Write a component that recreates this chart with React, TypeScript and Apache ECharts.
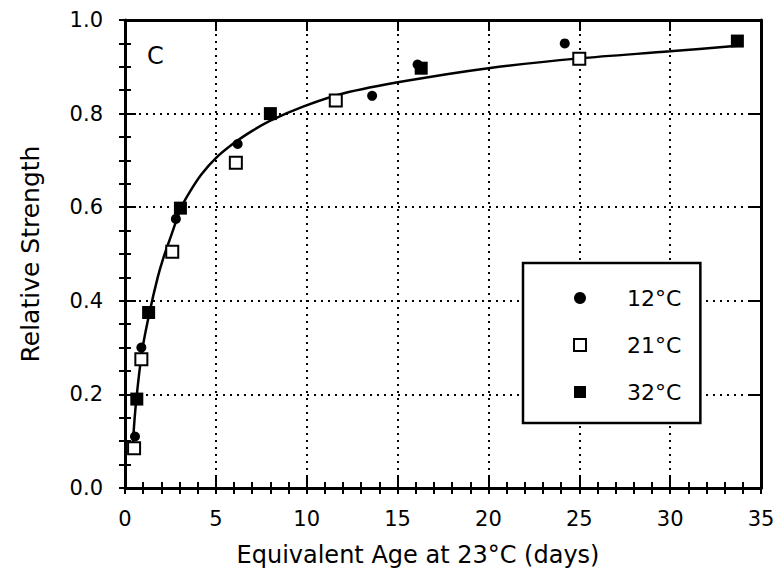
import React, { useEffect, useRef } from "react";
import * as echarts from "echarts";

const FONT = "DejaVu Sans";

// Measured points (equivalent age in days, relative strength)
const series12C: number[][] = [
  [0.55, 0.11], [0.9, 0.3], [2.8, 0.575], [6.2, 0.735], [13.6, 0.838], [16.1, 0.905], [24.2, 0.95],
];
const series21C: number[][] = [
  [0.5, 0.085], [0.9, 0.275], [2.6, 0.505], [6.1, 0.695], [11.6, 0.828], [25.0, 0.917],
];
const series32C: number[][] = [
  [0.65, 0.19], [1.3, 0.375], [3.05, 0.598], [8.0, 0.8], [16.3, 0.897], [33.7, 0.955],
];
// Fitted curve
const fitCurve: number[][] = [
  [0.42, 0.09], [0.6, 0.18], [0.95, 0.295], [1.35, 0.375], [1.8, 0.45], [2.1, 0.49],
  [2.5, 0.535], [3.1, 0.6], [3.6, 0.635], [4.2, 0.67], [5.0, 0.705], [6.0, 0.737],
  [7.0, 0.763], [8.0, 0.785], [9.8, 0.815], [12.0, 0.843], [15.5, 0.87], [20.0, 0.897],
  [25.0, 0.918], [30.0, 0.933], [33.7, 0.945],
];
const legendNames = ["12°C", "21°C", "32°C"];
const panelLabel = "C";
const xTitle = "Equivalent Age at 23°C (days)";
const yTitle = "Relative Strength";

export default function App() {
  const ref = useRef<HTMLDivElement>(null);
  useEffect(() => {
    const chart = echarts.init(ref.current!, null, { renderer: "svg" });
    const black = "#000";
    const frameLine = { show: true, onZero: false, lineStyle: { color: black, width: 3 } };
    const tickInside = { show: true, inside: true, length: 11, lineStyle: { color: black, width: 2 } };
    const minorTicks = { show: true, inside: true, length: 6, lineStyle: { color: black, width: 2 } };
    const grid = { color: black, type: [2, 5], width: 2 };
    const hidden = { show: false };
    chart.setOption({
      animation: false,
      backgroundColor: "#fff",
      grid: { left: 125, right: 19, top: 20, bottom: 88 },
      xAxis: [
        {
          type: "value", min: 0, max: 35, interval: 5, position: "bottom",
          axisLine: frameLine, axisTick: tickInside,
          splitLine: { show: true, lineStyle: grid },
          axisLabel: { color: black, fontFamily: FONT, fontSize: 21, margin: 20 },
          name: xTitle, nameLocation: "middle", nameGap: 55,
          nameTextStyle: { color: black, fontFamily: FONT, fontSize: 24, padding: [0, 50, 0, 0] },
        },
        {
          type: "value", min: 0, max: 35, interval: 5, position: "top",
          axisLine: frameLine, axisTick: tickInside,
          splitLine: hidden, axisLabel: hidden,
        },
        {
          type: "value", min: 0, max: 35, interval: 1, position: "bottom",
          axisLine: hidden, axisTick: minorTicks, splitLine: hidden, axisLabel: hidden,
        },
        {
          type: "value", min: 0, max: 35, interval: 1, position: "top",
          axisLine: hidden, axisTick: minorTicks, splitLine: hidden, axisLabel: hidden,
        },
      ],
      yAxis: [
        {
          type: "value", min: 0, max: 1, interval: 0.2, position: "left",
          axisLine: frameLine, axisTick: tickInside,
          splitLine: { show: true, lineStyle: grid },
          axisLabel: { color: black, fontFamily: FONT, fontSize: 21, margin: 22, formatter: (v: number) => v.toFixed(1) },
          name: yTitle, nameLocation: "middle", nameGap: 82,
          nameTextStyle: { color: black, fontFamily: FONT, fontSize: 25 },
        },
        {
          type: "value", min: 0, max: 1, interval: 0.2, position: "right",
          axisLine: frameLine, axisTick: tickInside,
          splitLine: hidden, axisLabel: hidden,
        },
        {
          type: "value", min: 0, max: 1, interval: 0.05, position: "left",
          axisLine: hidden, axisTick: minorTicks, splitLine: hidden, axisLabel: hidden,
        },
        {
          type: "value", min: 0, max: 1, interval: 0.05, position: "right",
          axisLine: hidden, axisTick: minorTicks, splitLine: hidden, axisLabel: hidden,
        },
      ],
      legend: {
        data: [
          { name: legendNames[0], icon: "circle", itemStyle: { color: black } },
          { name: legendNames[1], icon: "rect", itemStyle: { color: "#fff", borderColor: black, borderWidth: 2 } },
          { name: legendNames[2], icon: "rect", itemStyle: { color: black } },
        ],
        orient: "vertical", left: 523, top: 263,
        backgroundColor: "#fff", borderColor: black, borderWidth: 2.5, borderRadius: 0,
        padding: [22, 19, 18, 50], itemGap: 21, itemWidth: 12, itemHeight: 12,
        selectedMode: false,
        textStyle: { color: black, fontFamily: FONT, fontSize: 22, lineHeight: 26, padding: [0, 0, 0, 36] },
        z: 10,
      },
      graphic: [
        {
          type: "text", left: 147, top: 44, z: 10,
          style: { text: panelLabel, fill: black, font: `24px "${FONT}"` },
        },
      ],
      series: [
        {
          name: "fit", type: "line", smooth: 0.3, showSymbol: false, symbol: "none",
          data: fitCurve, lineStyle: { color: black, width: 2.5 }, z: 2,
        },
        {
          name: legendNames[0], type: "scatter", data: series12C, symbol: "circle", symbolSize: 10,
          itemStyle: { color: black, opacity: 1 }, z: 3,
        },
        {
          name: legendNames[1], type: "scatter", data: series21C, symbol: "rect", symbolSize: 12,
          itemStyle: { color: "#fff", borderColor: black, borderWidth: 2, opacity: 1 }, z: 3,
        },
        {
          name: legendNames[2], type: "scatter", data: series32C, symbol: "rect", symbolSize: 13,
          itemStyle: { color: black, opacity: 1 }, z: 4,
        },
      ],
    });
    return () => chart.dispose();
  }, []);
  return <div ref={ref} style={{ position: "fixed", left: 0, top: 0, width: 780, height: 576 }} />;
}
